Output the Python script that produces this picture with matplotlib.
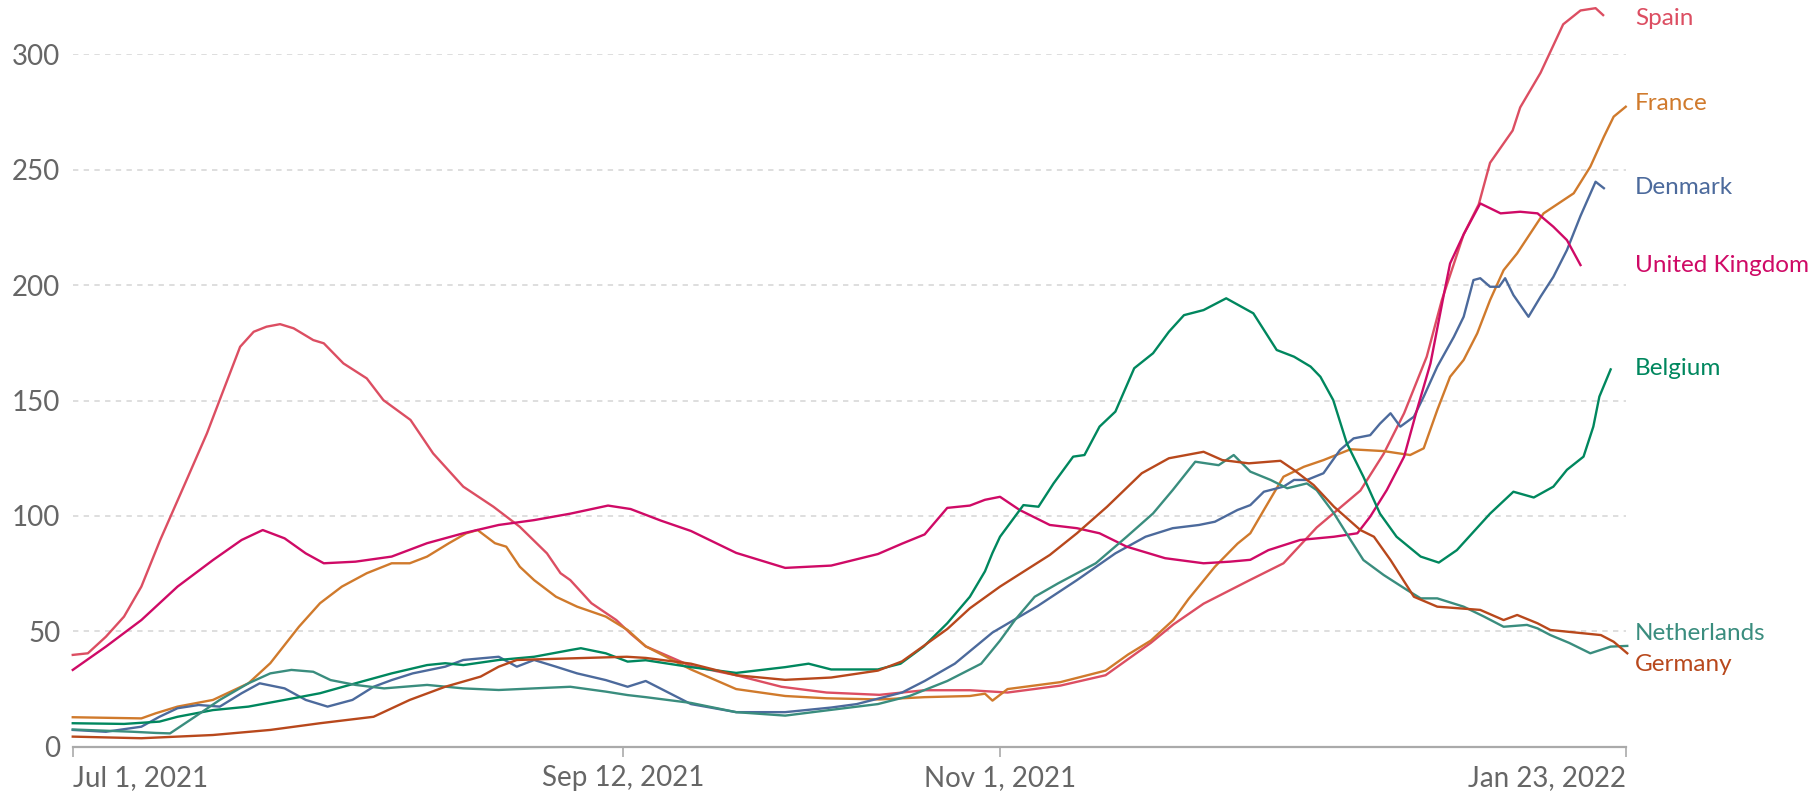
import matplotlib
matplotlib.use("Agg")
import matplotlib.pyplot as plt
import matplotlib.transforms as mtransforms
import numpy as np
import pandas as pd

plt.rcParams['font.family'] = ['Lato', 'DejaVu Sans']

START = pd.Timestamp('2021-07-01')

# values: day offset from Jul 1, 2021 -> value per million
spain_days = [0, 2, 4.4, 6.8, 9.1, 11.6, 15.1, 17.8, 20, 22.2, 24, 25.7, 27.5, 29.3, 31.9, 33.3, 35.9, 39,
              41.2, 44.8, 47.8, 51.8, 55.8, 59.3, 62.9, 64.7, 66, 68.8, 72.1, 74, 76, 82, 88, 94, 100, 107,
              113, 119, 124, 131, 137, 143, 146, 150, 156, 160.6, 165, 170.8, 173.9, 176.6, 179.6, 181.6,
              184.5, 186.5, 188, 191, 192, 194.7, 197.7, 200, 202, 203]
spain_vals = [39.8, 40.5, 47.7, 56.4, 69.4, 89.6, 115.6, 135.8, 154.6, 173.3, 179.8, 182, 183.1, 181.3, 176.2,
              174.8, 166.1, 159.6, 150.2, 141.6, 127.1, 112.7, 104, 95.3, 83.8, 75.2, 72.2, 62.2, 54.9, 49,
              43.5, 35, 31, 26, 23.5, 22.5, 24.5, 24.5, 23.5, 26.5, 31, 45, 53, 62, 72, 79.5, 95, 111, 127,
              144.5, 169, 193.5, 222, 235, 253, 267, 277, 292, 313, 319, 320, 317]

france_days = [0, 9.1, 11, 13.9, 18.6, 23.3, 26.2, 30, 32.8, 35.7, 39, 42.3, 44.7, 47, 49.9, 52.2, 53.7, 56,
               57.5, 59.3, 61.2, 64.1, 66.9, 70.7, 73.6, 76, 82, 88, 94.5, 100, 107, 113, 119, 121, 122, 124,
               131, 137, 140, 143, 146, 148, 151.5, 154.5, 156.2, 158, 160.6, 163.3, 165.9, 169.5, 173.9,
               177.4, 179.2, 181, 182.7, 184.5, 186.3, 188, 189.8, 191.6, 195.1, 199.1, 201.3, 203.1, 204.4, 206]
france_vals = [12.8, 12.3, 14.5, 17.4, 20.3, 27.5, 36.2, 52, 62.2, 69.4, 75.2, 79.5, 79.5, 82.4, 88.2, 92.5,
               93.9, 88.2, 86.7, 78, 72.2, 65, 60.7, 56.4, 50.6, 43.5, 33.5, 25, 22, 21, 20.5, 21.5, 22, 23,
               20, 25, 28, 33, 40, 46, 55, 64, 78, 88, 92.5, 102.6, 117, 121.3, 124.2, 128.9, 128.1, 126.4,
               129.3, 145.9, 160.3, 167.6, 179.1, 193.5, 206.5, 213.8, 231.1, 239.8, 251.3, 264.3, 273, 277.3]

denmark_days = [0, 4.4, 9.1, 11.5, 13.9, 16.7, 19.5, 22.4, 24.8, 28.1, 30.9, 33.8, 37.1, 39.9, 42.3, 45.1,
                49.4, 51.8, 54.1, 56.5, 58.9, 61.2, 64.1, 66.9, 70.7, 73.6, 76, 79, 82, 88, 94.5, 100.6, 104,
                107, 110, 113, 117, 122, 128, 133.2, 138.3, 142.3, 145.9, 149.4, 151.5, 154.5, 156.2, 158,
                160.6, 162, 163.7, 165.9, 168.1, 169.9, 172.1, 173.4, 174.8, 176.1, 177.9, 179.2, 181, 183.2,
                184.5, 185.8, 186.7, 188, 189.2, 190, 191.1, 193.1, 194.7, 196.4, 198.2, 200, 202, 203.1]
denmark_vals = [7.3, 6.5, 8.7, 13, 16.7, 18.1, 17.4, 23.2, 27.5, 25.3, 20.3, 17.4, 20.3, 26, 28.9, 31.8,
                34.7, 37.6, 38.3, 39, 34.7, 37.6, 34.7, 31.8, 28.9, 26, 28.5, 23.5, 18.5, 15, 15, 17, 18.5,
                21, 23.5, 28.5, 36, 49.5, 61, 72.2, 83.8, 91, 94.7, 96.1, 97.5, 102.6, 104.7, 110.5, 112.7,
                115.6, 115.6, 118.5, 128.6, 133.6, 135, 140, 144.5, 138.7, 143, 151.7, 164.7, 177.6, 186.3,
                202.2, 203, 199.3, 199.3, 203, 195.7, 186.3, 195, 203.6, 215.2, 230, 244.8, 242]

uk_days = [0, 4.4, 9.1, 13.9, 18.6, 22.4, 25.2, 28.1, 30.9, 33.3, 37.5, 42.3, 47, 51.8, 56.5, 61.2, 66, 71,
           74, 78, 82, 88, 94.5, 100.6, 106.8, 110, 113, 116, 119, 121, 123, 125.6, 129.6, 133.2, 136.2,
           139.8, 144.9, 150, 153.5, 156.2, 158.6, 162.8, 167.3, 170.4, 172.1, 174.3, 176.6, 178.3, 180.1,
           181.9, 182.7, 184.5, 186.7, 189.4, 192, 194.3, 196.4, 198.2, 200]
uk_vals = [33.3, 43.4, 54.9, 69.4, 80.9, 89.6, 93.9, 90.3, 83.8, 79.5, 80.2, 82.4, 88.2, 92.5, 96.1, 98.2,
           101, 104.5, 103, 98, 93.5, 84, 77.5, 78.5, 83.5, 88, 92, 103.5, 104.5, 107, 108.3, 102.6, 96.1,
           94.7, 92.5, 86.7, 81.7, 79.5, 80.2, 81, 85.2, 89.6, 91, 92.5, 99.7, 111.2, 125.7, 145.9, 166.1,
           196.4, 209.4, 222, 235.4, 231.1, 231.8, 231.1, 225.3, 219.5, 208.7]

belgium_days = [0, 6.8, 11.5, 13.9, 18.6, 23.3, 28.1, 32.8, 37.5, 42.3, 47, 49.4, 51.8, 56.5, 61.2, 66, 67.4,
                70.7, 73.6, 76, 82, 88, 94.5, 97.6, 100.6, 106.8, 109.8, 112.9, 116, 119, 121, 122, 123,
                126.1, 128.1, 130.1, 132.7, 134.2, 136.2, 138.3, 140.8, 143.3, 145.4, 147.4, 150, 153, 156.6,
                159.7, 162, 164.2, 165.5, 167.2, 169, 171.2, 173.4, 175.6, 178.8, 181.2, 183.6, 188, 191.1,
                193.8, 196.4, 198.2, 200.4, 201.7, 202.5, 204]
belgium_vals = [10.2, 9.9, 10.9, 13, 15.9, 17.4, 20.3, 23.2, 27.5, 31.8, 35.4, 36.2, 35.4, 37.6, 39, 41.9,
                42.7, 40.5, 36.9, 37.5, 34.5, 32, 34.5, 36, 33.5, 33.5, 36, 43.5, 53.5, 65, 76, 84, 91,
                104.7, 104, 114.1, 125.7, 126.4, 138.7, 145.2, 164, 170.5, 179.8, 187, 189.2, 194.3, 187.8,
                171.9, 169, 164.7, 160.3, 150.2, 131.5, 117, 101, 91, 82.4, 79.8, 85.2, 101, 110.5, 108,
                112.7, 120, 125.7, 138.7, 151.7, 163.5]

netherlands_days = [0, 4, 8, 11, 12.9, 16.2, 19.5, 23.3, 26.2, 29, 31.9, 34.2, 37.5, 41.3, 47, 51.8, 56.5,
                    61.2, 66, 70.7, 73.6, 76, 82, 88, 94.5, 100.6, 106.8, 111, 116, 120.5, 123, 125, 127.6,
                    130.7, 135.7, 139.8, 143.3, 145.9, 148.9, 152, 154, 156.2, 158.9, 161.1, 163.7, 165,
                    167.3, 169.5, 171.2, 173.9, 177, 178.8, 181, 184.5, 187.2, 189.8, 192.9, 194.3, 196,
                    198.5, 201.3, 204, 206.2]
netherlands_vals = [7.5, 7, 6.5, 6, 5.8, 13, 20.3, 27.5, 31.8, 33.3, 32.5, 28.9, 26.8, 25.3, 26.8, 25.3,
                    24.6, 25.3, 26, 23.9, 22.4, 21.5, 19, 15, 13.5, 16, 18.5, 22, 28.5, 36, 46, 55, 65,
                    70.8, 79.5, 91, 101.1, 111.2, 123.5, 122, 126.4, 119.2, 115.6, 112, 114.1, 111.2, 101.1,
                    89.6, 80.9, 74.4, 67.9, 64.3, 64.3, 60.7, 56.4, 52, 52.8, 51.3, 48.4, 45, 40.5, 43.4, 43.7]

germany_days = [0, 9.1, 18.6, 26.2, 32.8, 39.9, 44.7, 49.4, 54.1, 56.5, 58.9, 66, 73.5, 76, 82, 88, 94.5,
                100.6, 106.8, 110, 113, 116, 119, 123, 129.6, 133.2, 137.2, 141.8, 145.4, 150, 152.5, 156,
                160.2, 162, 164.6, 167.3, 170.8, 172.6, 174.8, 177.9, 181, 186.7, 189.8, 191.6, 194.3, 196,
                202.7, 204.4, 206.2]
germany_vals = [4.4, 3.7, 5.1, 7.3, 10.2, 13, 20.3, 26, 30.4, 34.7, 37.6, 38.3, 39, 38.5, 36, 31, 29, 30,
                33, 37, 44, 51, 60, 69.4, 83.1, 92.5, 104, 118.5, 125, 127.8, 124.2, 122.8, 123.9, 119.9,
                113.4, 104, 93.9, 91, 80.9, 65, 60.7, 59.3, 54.9, 57.1, 53.5, 50.6, 48.4, 45.5, 40.5]

countries = ['Spain', 'France', 'Denmark', 'United Kingdom', 'Belgium', 'Netherlands', 'Germany']
series = {
    'Spain': (spain_days, spain_vals),
    'France': (france_days, france_vals),
    'Denmark': (denmark_days, denmark_vals),
    'United Kingdom': (uk_days, uk_vals),
    'Belgium': (belgium_days, belgium_vals),
    'Netherlands': (netherlands_days, netherlands_vals),
    'Germany': (germany_days, germany_vals),
}
colors = {
    'Spain': '#dc4e62',
    'France': '#d07a2c',
    'Denmark': '#4c6a9c',
    'United Kingdom': '#cf0a66',
    'Belgium': '#00875e',
    'Netherlands': '#3a8d7e',
    'Germany': '#b8481c',
}
# small nudges so end labels do not collide
label_nudge = {'Spain': -1.5, 'France': 1.2, 'Denmark': 0.5, 'United Kingdom': 0, 'Belgium': 0.5,
               'Netherlands': 5.3, 'Germany': -5}

tick_dates = ['2021-07-01', '2021-09-12', '2021-11-01', '2022-01-23']
tick_labels = ['Jul 1, 2021', 'Sep 12, 2021', 'Nov 1, 2021', 'Jan 23, 2022']
y_ticks = [0, 50, 100, 150, 200, 250, 300]

fig = plt.figure(figsize=(18.1, 7.92), dpi=100)
ax = fig.add_axes([0.0402, 0.0571, 0.858, 0.8743])

for name in countries:
    d, v = series[name]
    x = START + pd.to_timedelta(np.array(d), unit='D')
    ax.plot(x, v, color=colors[name], lw=1.7, clip_on=False, solid_joinstyle='round')

ax.set_xlim(pd.Timestamp(tick_dates[0]), pd.Timestamp(tick_dates[-1]))
ax.set_ylim(0, 300)

ax.set_yticks(y_ticks)
ax.set_yticklabels([str(t) for t in y_ticks])
for t in y_ticks[1:]:
    ax.axhline(t, color='#d4d4d4', lw=1.1, ls=(0, (3.5, 3.5)), zorder=0)

ax.set_xticks([pd.Timestamp(t) for t in tick_dates])
ax.set_xticklabels(tick_labels)
xl = ax.get_xticklabels()
xl[0].set_ha('left')
xl[-1].set_ha('right')

for s in ['top', 'right', 'left']:
    ax.spines[s].set_visible(False)
ax.spines['bottom'].set_color('#aaaaaa')
ax.spines['bottom'].set_linewidth(1.6)

ax.tick_params(axis='y', length=0, pad=9, labelsize=20, labelcolor='#666666')
ax.tick_params(axis='x', length=7, width=1.2, color='#aaaaaa', pad=6, labelsize=20, labelcolor='#666666')

trans = mtransforms.blended_transform_factory(ax.transAxes, ax.transData)
for name in countries:
    d, v = series[name]
    ax.text(1.006, v[-1] + label_nudge[name], name, transform=trans, ha='left', va='center',
            fontsize=17.5, color=colors[name])

fig.savefig('out.png', dpi=100, facecolor='white')
